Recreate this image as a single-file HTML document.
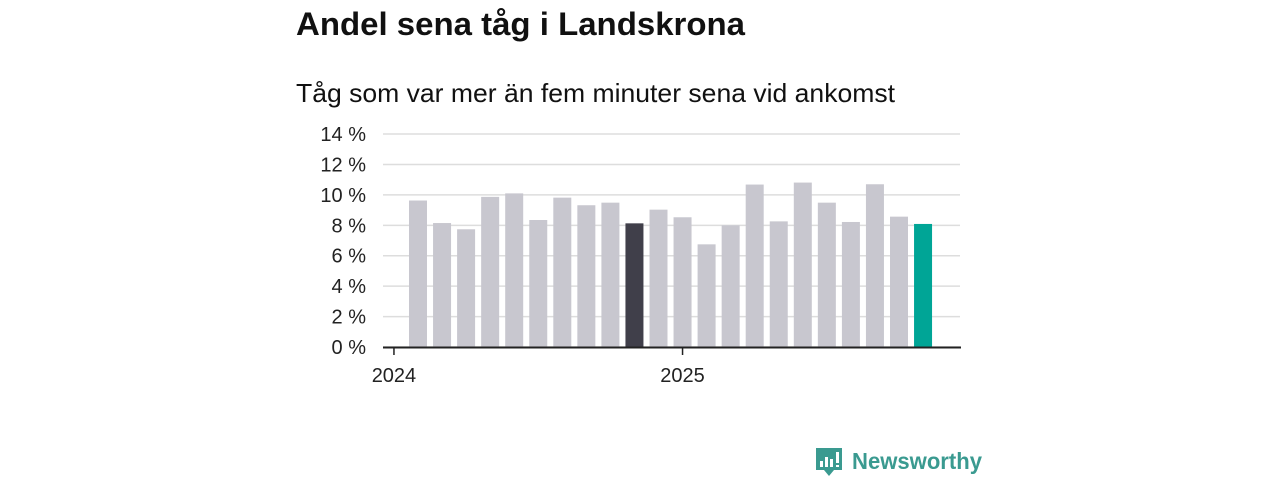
<!DOCTYPE html>
<html><head><meta charset="utf-8"><style>
body{margin:0;background:#fff;width:1280px;height:480px;overflow:hidden;font-family:"Liberation Sans",sans-serif;}
</style></head><body>
<svg width="1280" height="480">
<text x="296" y="35" font-size="32" font-weight="bold" fill="#111" textLength="449" lengthAdjust="spacingAndGlyphs">Andel sena tåg i Landskrona</text>
<text x="296" y="102" font-size="26" fill="#111" textLength="599" lengthAdjust="spacingAndGlyphs">Tåg som var mer än fem minuter sena vid ankomst</text>
<g id="grid"></g><g id="bars"></g><g id="axes"></g>
<g>
<path d="M816 448 h26 v22 h-8 l-5 6 l-5 -6 h-8 z" fill="#3a9a90"/>
<rect x="820" y="461" width="3" height="6" fill="#fff"/><rect x="825" y="457" width="3" height="10" fill="#fff"/><rect x="830" y="459" width="3" height="8" fill="#fff"/><rect x="836" y="452" width="3" height="11" fill="#fff"/><rect x="836" y="465" width="3" height="2" fill="#fff"/>
<text x="852" y="469" font-size="23" font-weight="bold" fill="#3a9a90" textLength="130" lengthAdjust="spacingAndGlyphs">Newsworthy</text>
</g>
</svg>
<script>
const values=[9.63,8.15,7.74,9.87,10.1,8.35,9.82,9.32,9.49,8.13,9.03,8.53,6.75,8.0,10.68,8.26,10.81,9.49,8.22,10.7,8.57,8.09];
const yTicks=[0,2,4,6,8,10,12,14];
const xLabels=["2024","2025"];
const xLabelIdx=[-1,11];
const NS="http://www.w3.org/2000/svg";
const y=v=>347-v*15.21;
const x=i=>418+i*24.05;
const grid=document.getElementById('grid'),bars=document.getElementById('bars'),axes=document.getElementById('axes');
yTicks.forEach(t=>{
 const l=document.createElementNS(NS,'line');
 l.setAttribute('x1',383);l.setAttribute('x2',960);l.setAttribute('y1',y(t));l.setAttribute('y2',y(t));
 l.setAttribute('stroke','#ddd');l.setAttribute('stroke-width','1.5');
 
 
 grid.appendChild(l);
 const tx=document.createElementNS(NS,'text');
 tx.setAttribute('x',366);tx.setAttribute('y',y(t)+7);tx.setAttribute('text-anchor','end');
 tx.setAttribute('font-size','20');tx.setAttribute('fill','#222');
 tx.textContent=t+' %';
 
 
 axes.appendChild(tx);
});
values.forEach((v,i)=>{
 const r=document.createElementNS(NS,'rect');
 r.setAttribute('x',x(i)-9);r.setAttribute('width',18);r.setAttribute('y',y(v));r.setAttribute('height',y(0)-y(v));
 r.setAttribute('fill',i===values.length-1?'#00a596':(i===9?'#403f4a':'#c8c7cf'));
 
 
 bars.appendChild(r);
});
const base=document.createElementNS(NS,'line');
base.setAttribute('x1',383);base.setAttribute('x2',961);base.setAttribute('y1',347.5);base.setAttribute('y2',347.5);
base.setAttribute('stroke','#222');base.setAttribute('stroke-width','2');


axes.appendChild(base);
xLabels.forEach((s,k)=>{
 const xi=x(xLabelIdx[k]);
 const tk=document.createElementNS(NS,'line');
 tk.setAttribute('x1',xi);tk.setAttribute('x2',xi);tk.setAttribute('y1',347);tk.setAttribute('y2',355);
 tk.setAttribute('stroke','#222');tk.setAttribute('stroke-width','1.5');
 
 
 axes.appendChild(tk);
 const tx=document.createElementNS(NS,'text');
 tx.setAttribute('x',xi);tx.setAttribute('y',382);tx.setAttribute('text-anchor','middle');
 tx.setAttribute('font-size','20');tx.setAttribute('fill','#222');tx.textContent=s;
 
 
 axes.appendChild(tx);
});
</script>
</body></html>
